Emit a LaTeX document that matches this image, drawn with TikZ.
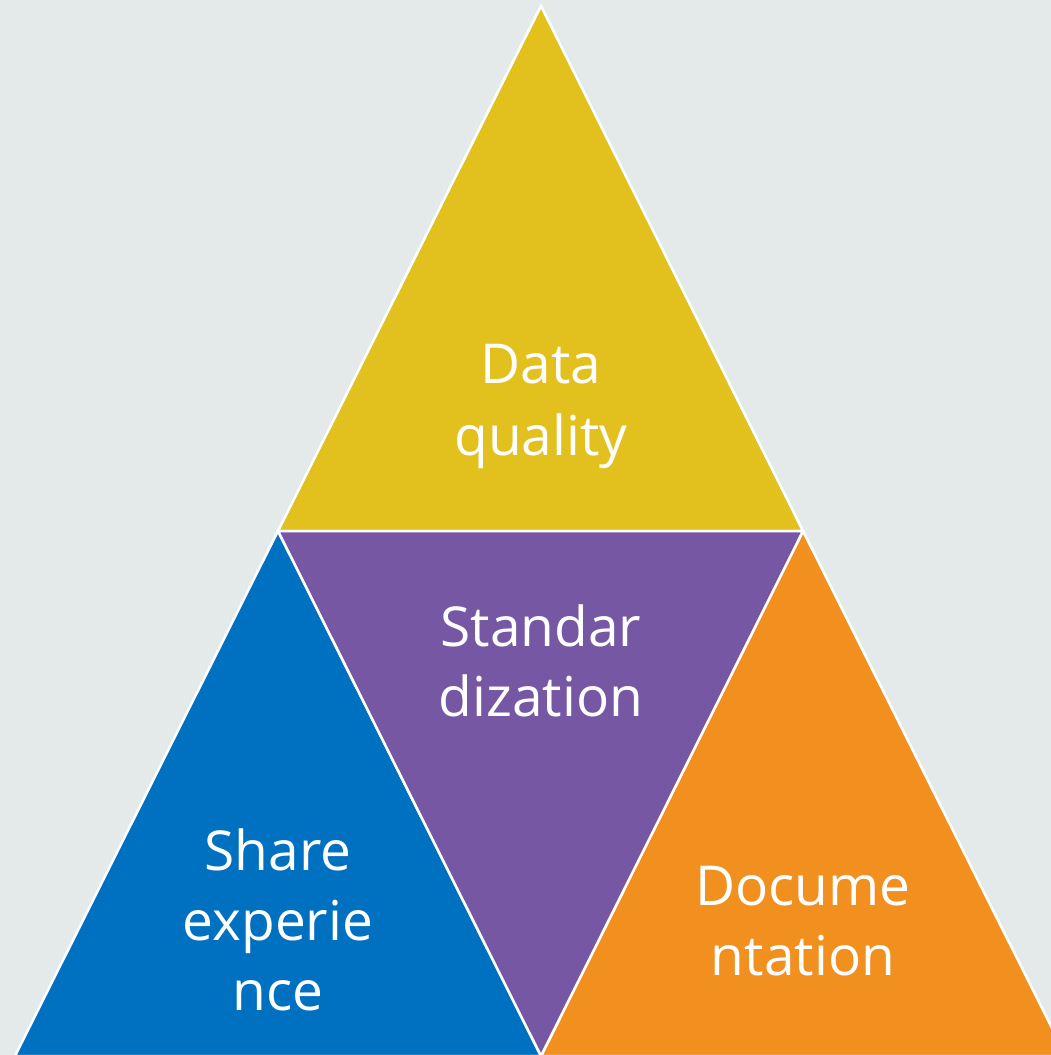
\documentclass[tikz,border=0pt]{standalone}
\usepackage{fontspec}
\setmainfont{Open Sans}
\definecolor{bgc}{HTML}{E4EAE9}
\definecolor{yel}{HTML}{E2C11F}
\definecolor{pur}{HTML}{7657A4}
\definecolor{blu}{HTML}{0070C0}
\definecolor{ora}{HTML}{F18F1F}
\begin{document}
\begin{tikzpicture}[x=1pt,y=-1pt,
  tri/.style={draw=white,line width=2.5pt,line join=miter},
  lbl/.style={text=white,font=\fontsize{55}{70}\selectfont,align=center,inner sep=0pt,anchor=base}]
\useasboundingbox (0,0) rectangle (1051,1055);
\fill[bgc] (0,0) rectangle (1051,1055);
\begin{scope}
\clip (0,0) rectangle (1051,1055);
\coordinate (A) at (541,6);
\coordinate (L) at (278,531);
\coordinate (R) at (803,531);
\coordinate (BL) at (15,1056);
\coordinate (BM) at (541,1056);
\coordinate (BR) at (1066,1056);
\filldraw[tri,fill=yel] (A) -- (L) -- (R) -- cycle;
\filldraw[tri,fill=blu] (L) -- (BL) -- (BM) -- cycle;
\filldraw[tri,fill=ora] (R) -- (BM) -- (BR) -- cycle;
\filldraw[tri,fill=pur] (L) -- (R) -- (BM) -- cycle;
\end{scope}
\node[lbl] (dq) at (541,455) {Data\\[2pt]quality};
\node[lbl] (st) at (541,716) {Standar\\dization};
\node[lbl] (sh) at (278,1010) {Share\\experie\\nce};
\node[lbl] (doc) at (803,975) {Docume\\ntation};
\end{tikzpicture}
\end{document}
